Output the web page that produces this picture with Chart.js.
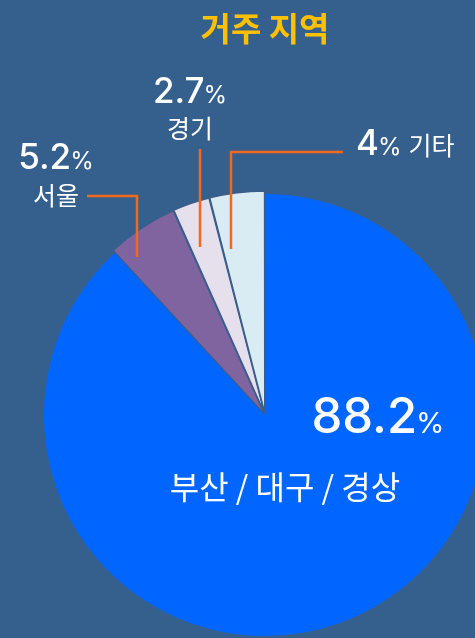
<!DOCTYPE html>
<html>
<head>
<meta charset="utf-8">
<script src="https://cdn.jsdelivr.net/npm/chart.js@4.4.1/dist/chart.umd.min.js"></script>
<style>
  html, body { margin: 0; padding: 0; background: #35608e; overflow: hidden; }
  #wrap { position: relative; width: 475px; height: 638px; }
</style>
</head>
<body>
<div id="wrap"><canvas id="c" width="475" height="638"></canvas></div>
<script>
// 거주 지역 — pie of residence region shares
const categories = ['부산 / 대구 / 경상', '서울', '경기', '기타'];
const shares = [88.2, 5.2, 2.7, 4];
const shareLabels = ['88.2', '5.2', '2.7', '4'];

const BG = '#35608e';
const sliceColors = ['#0066ff', '#8064a0', '#e6dfec', '#daecf3'];
const LEADER = '#f06a1a';
const KR = '"Noto Sans CJK KR", "Noto Sans", sans-serif';
const NUM = 'Inter, "Noto Sans", sans-serif';

function numWithPct(ctx, num, x, y, bigSize, pctSize, align) {
  ctx.font = `500 ${bigSize}px ${NUM}`;
  const w1 = ctx.measureText(num).width;
  ctx.font = `400 ${pctSize}px ${NUM}`;
  const w2 = ctx.measureText('%').width;
  const gap = -1;
  const total = w1 + w2 + gap;
  let x0 = x;
  if (align === 'center') x0 = x - total / 2;
  ctx.textAlign = 'left';
  ctx.textBaseline = 'alphabetic';
  ctx.font = `500 ${bigSize}px ${NUM}`;
  ctx.fillText(num, x0, y);
  ctx.font = `400 ${pctSize}px ${NUM}`;
  ctx.fillText('%', x0 + w1 + gap, y);
  return x0 + total;
}

const labelsPlugin = {
  id: 'labels',
  afterDraw(chart) {
    const ctx = chart.ctx;
    ctx.save();
    // leader lines
    ctx.strokeStyle = LEADER;
    ctx.lineWidth = 2.5;
    ctx.beginPath();
    ctx.moveTo(87, 196); ctx.lineTo(137, 196); ctx.lineTo(137, 257);
    ctx.moveTo(200, 149); ctx.lineTo(200, 247);
    ctx.moveTo(343, 152); ctx.lineTo(231, 152); ctx.lineTo(231, 249);
    ctx.stroke();

    // title
    ctx.fillStyle = '#ffc000';
    ctx.font = `bold 33px ${KR}`;
    ctx.textAlign = 'center';
    ctx.textBaseline = 'middle';
    ctx.fillText('거주 지역', 265, 28);

    ctx.fillStyle = '#ffffff';
    // big slice
    numWithPct(ctx, shareLabels[0], 378, 433, 49, 29, 'center');
    ctx.font = `400 32px ${KR}`;
    ctx.textAlign = 'center';
    ctx.textBaseline = 'middle';
    ctx.fillText(categories[0], 285, 487);

    // 서울
    numWithPct(ctx, shareLabels[1], 56, 169, 35, 24, 'center');
    ctx.font = `400 25px ${KR}`;
    ctx.textAlign = 'center';
    ctx.textBaseline = 'middle';
    ctx.fillText(categories[1], 56, 195);

    // 경기
    numWithPct(ctx, shareLabels[2], 190, 103, 35, 24, 'center');
    ctx.font = `400 25px ${KR}`;
    ctx.textAlign = 'center';
    ctx.textBaseline = 'middle';
    ctx.fillText(categories[2], 190, 128);

    // 기타
    const end = numWithPct(ctx, shareLabels[3], 356, 155, 35, 24, 'left');
    ctx.font = `400 25px ${KR}`;
    ctx.textAlign = 'left';
    ctx.textBaseline = 'middle';
    ctx.fillText(categories[3], end + 7, 145);
    ctx.restore();
  }
};

new Chart(document.getElementById('c'), {
  type: 'pie',
  data: {
    labels: categories,
    datasets: [{
      data: shares,
      backgroundColor: sliceColors,
      borderColor: [BG, '#3a5e8a', '#3a5e8a', '#3a5e8a'],
      borderWidth: [0, 1.2, 1.5, 1.5],
      offset: [0, 7, 7, 7],
      clip: false,
    }]
  },
  options: {
    responsive: false,
    animation: false,
    events: [],
    radius: 221,
    layout: { padding: { left: 55, right: 0, top: 192, bottom: 0 } },
    plugins: { legend: { display: false }, tooltip: { enabled: false }, title: { display: false } }
  },
  plugins: [labelsPlugin]
});
</script>
</body>
</html>
